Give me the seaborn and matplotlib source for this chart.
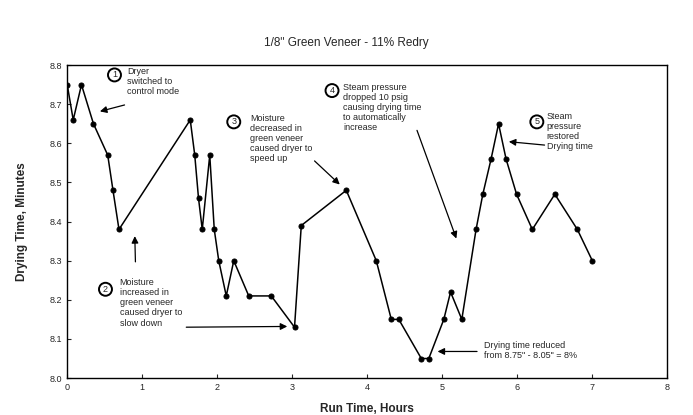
import pandas as pd
import matplotlib
matplotlib.use("Agg")
import matplotlib.pyplot as plt
import seaborn as sns

# Run time (hours) and drying time (minutes)
run_time = [0.0, 0.08, 0.19, 0.35, 0.54, 0.61, 0.69, 1.64, 1.70, 1.75, 1.80,
            1.90, 1.96, 2.02, 2.12, 2.22, 2.42, 2.72, 3.03, 3.12, 3.72, 4.12,
            4.32, 4.42, 4.72, 4.82, 5.02, 5.11, 5.26, 5.45, 5.54, 5.65, 5.75,
            5.85, 5.99, 6.20, 6.50, 6.80, 7.00]
drying_time = [8.75, 8.66, 8.75, 8.65, 8.57, 8.48, 8.38, 8.66, 8.57, 8.46, 8.38,
               8.57, 8.38, 8.30, 8.21, 8.30, 8.21, 8.21, 8.13, 8.39, 8.48, 8.30,
               8.15, 8.15, 8.05, 8.05, 8.15, 8.22, 8.15, 8.38, 8.47, 8.56, 8.65,
               8.56, 8.47, 8.38, 8.47, 8.38, 8.30]

x_ticks = [0, 1, 2, 3, 4, 5, 6, 7, 8]
y_ticks = [8.0, 8.1, 8.2, 8.3, 8.4, 8.5, 8.6, 8.7, 8.8]

df = pd.DataFrame({"run_time": run_time, "drying_time": drying_time})

sns.set_style("ticks")
plt.rcParams["font.family"] = ["Liberation Sans", "DejaVu Sans"]

fig = plt.figure(figsize=(6.93, 4.15), dpi=100)
ax = fig.add_axes([0.097, 0.089, 0.866, 0.754])

sns.lineplot(data=df, x="run_time", y="drying_time", estimator=None,
             color="black", linewidth=1.1, marker="o", markersize=3.6,
             markeredgecolor="black", ax=ax)

ax.set_xlim(0, 8)
ax.set_ylim(8.0, 8.8)
ax.set_xticks(x_ticks)
ax.set_yticks(y_ticks)
ax.set_yticklabels([f"{v:.1f}" for v in y_ticks])
ax.tick_params(direction="in", length=3, labelsize=6.5, width=0.8)
for s in ax.spines.values():
    s.set_linewidth(1.0)
    s.set_color("black")

fig.suptitle('1/8" Green Veneer - 11% Redry', y=0.91, fontsize=8.5)
ax.set_xlabel("Run Time, Hours", fontsize=8.5, fontweight="bold", labelpad=8)
ax.set_ylabel("Drying Time, Minutes", fontsize=8.5, fontweight="bold", labelpad=16)

note_size = 6.5
circ = dict(boxstyle="circle,pad=0.22", fc="white", ec="black", lw=1.4)
arrow = dict(arrowstyle="-|>", color="black", lw=0.9, mutation_scale=10)

def note(num, nx, ny, tx, ty, text):
    ax.text(nx, ny, num, fontsize=6.5, ha="center", va="center", bbox=circ)
    ax.text(tx, ty, text, fontsize=note_size, ha="left", va="top",
            linespacing=1.15)

note("1", 0.63, 8.775, 0.80, 8.795, "Dryer\nswitched to\ncontrol mode")
ax.annotate("", xy=(0.40, 8.68), xytext=(0.80, 8.70), arrowprops=arrow)

note("2", 0.51, 8.227, 0.70, 8.255,
     "Moisture\nincreased in\ngreen veneer\ncaused dryer to\nslow down")
ax.annotate("", xy=(0.90, 8.37), xytext=(0.91, 8.29), arrowprops=arrow)
ax.annotate("", xy=(2.97, 8.132), xytext=(1.55, 8.13), arrowprops=arrow)

note("3", 2.22, 8.655, 2.44, 8.675,
     "Moisture\ndecreased in\ngreen veneer\ncaused dryer to\nspeed up")
ax.annotate("", xy=(3.66, 8.49), xytext=(3.27, 8.56), arrowprops=arrow)

note("4", 3.53, 8.735, 3.68, 8.755,
     "Steam pressure\ndropped 10 psig\ncausing drying time\nto automatically\nincrease")
ax.annotate("", xy=(5.20, 8.35), xytext=(4.65, 8.64), arrowprops=arrow)

note("5", 6.26, 8.655, 6.39, 8.68,
     "Steam\npressure\nrestored\nDrying time")
ax.annotate("", xy=(5.85, 8.605), xytext=(6.40, 8.595), arrowprops=arrow)

ax.text(5.56, 8.095, 'Drying time reduced\nfrom 8.75" - 8.05" = 8%',
        fontsize=note_size, ha="left", va="top", linespacing=1.15)
ax.annotate("", xy=(4.90, 8.068), xytext=(5.50, 8.068), arrowprops=arrow)

fig.savefig("out.png", dpi=100)
